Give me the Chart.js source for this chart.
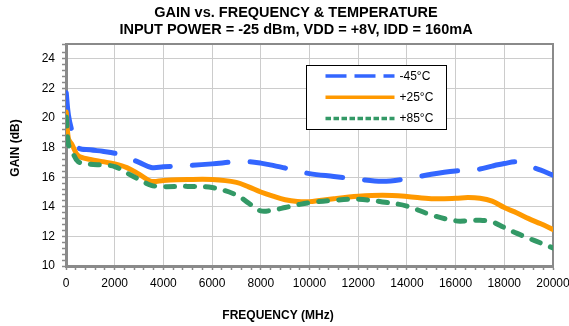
<!DOCTYPE html>
<html>
<head>
<meta charset="utf-8">
<script src="https://cdn.jsdelivr.net/npm/chart.js@4.4.1/dist/chart.umd.min.js"></script>
<style>
  html, body { margin: 0; padding: 0; background: #fff; overflow: hidden; }
  #wrap { width: 569px; height: 326px; position: relative; }
</style>
</head>
<body>
<div id="wrap"><canvas id="c" width="569" height="326"></canvas></div>
<script>
// Measured small-signal gain (dB) versus frequency (MHz) at three temperatures
const FREQ_MHZ = [10, 100, 250, 500, 1000, 1500, 2000, 2500, 3000, 3500, 4000, 5000, 6000, 7000, 7500, 8000, 8500,
                  9000, 9500, 10000, 11000, 12000, 13000, 14000, 15000, 16000, 16500, 17000, 17500, 18000, 18500, 19000, 19500, 20000];
const GAIN_M45 = [21.7, 20.2, 19.1, 18.0, 17.85, 17.75, 17.62, 17.35, 17.0, 16.66, 16.7, 16.78, 16.9, 17.05, 17.05, 16.95, 16.8,
                  16.62, 16.45, 16.24, 16.05, 15.86, 15.72, 15.9, 16.2, 16.42, 16.45, 16.55, 16.75, 16.92, 17.03, 16.75, 16.48, 16.13];
const GAIN_P25 = [20.4, 18.6, 18.2, 17.45, 17.2, 17.05, 16.9, 16.65, 16.2, 15.72, 15.78, 15.84, 15.84, 15.65, 15.35, 15.0, 14.72,
                  14.48, 14.36, 14.35, 14.55, 14.71, 14.78, 14.7, 14.55, 14.57, 14.63, 14.58, 14.38, 13.95, 13.6, 13.2, 12.85, 12.46];
const GAIN_P85 = [20.07, 18.24, 17.75, 17.05, 16.88, 16.82, 16.72, 16.28, 15.85, 15.45, 15.36, 15.38, 15.3, 14.8, 14.25, 13.72, 13.78,
                  13.95, 14.13, 14.28, 14.44, 14.51, 14.33, 14.05, 13.45, 13.05, 13.05, 13.09, 12.98, 12.6, 12.22, 11.88, 11.55, 11.22];
const SERIES_LABELS = ['-45°C', '+25°C', '+85°C'];

// Labelled axis values
const X_TICKS = [0, 2000, 4000, 6000, 8000, 10000, 12000, 14000, 16000, 18000, 20000];
const Y_TICKS = [10, 12, 14, 16, 18, 20, 22, 24];

const TITLE_LINES = ['GAIN vs. FREQUENCY & TEMPERATURE', 'INPUT POWER = -25 dBm, VDD = +8V, IDD = 160mA'];
const X_TITLE = 'FREQUENCY (MHz)';
const Y_TITLE = 'GAIN (dB)';

const FONT = '"Liberation Sans", Arial, sans-serif';
const FRAME = '#8a8a8a';
const GRID = '#cccccc';

const toPoints = (ys) => FREQ_MHZ.map((f, i) => ({ x: f, y: ys[i] }));
const isMajor = (v, list) => list.some(t => Math.abs(t - v) < 1e-6);

// Plot frame (top and right edges)
const frame = {
  id: 'frame',
  beforeDatasetsDraw(chart) {
    const { ctx, chartArea: a } = chart;
    ctx.save();
    ctx.strokeStyle = FRAME;
    ctx.lineWidth = 2;
    ctx.beginPath();
    ctx.moveTo(a.left, a.top);
    ctx.lineTo(a.right, a.top);
    ctx.lineTo(a.right, a.bottom);
    ctx.stroke();
    ctx.restore();
  }
};

// Boxed legend inside the plot
const boxLegend = {
  id: 'boxLegend',
  afterDatasetsDraw(chart, args, opts) {
    const { ctx, chartArea: a } = chart;
    const x = Math.round(a.left + opts.fx * (a.right - a.left)) + 0.5;
    const y = Math.round(a.top + opts.fy * (a.bottom - a.top)) + 0.5;
    ctx.save();
    ctx.fillStyle = '#fff';
    ctx.fillRect(x, y, opts.w, opts.h);
    ctx.strokeStyle = '#000';
    ctx.lineWidth = 1;
    ctx.strokeRect(x, y, opts.w, opts.h);
    ctx.font = '12px ' + FONT;
    ctx.textBaseline = 'middle';
    ctx.textAlign = 'left';
    chart.data.datasets.forEach((ds, i) => {
      const cy = y + opts.first + i * opts.gap;
      ctx.beginPath();
      ctx.setLineDash(opts.dashes[i]);
      ctx.lineCap = 'butt';
      ctx.lineWidth = 3.5;
      ctx.strokeStyle = ds.borderColor;
      ctx.moveTo(x + 19, cy);
      ctx.lineTo(x + 88, cy);
      ctx.stroke();
      ctx.setLineDash([]);
      ctx.fillStyle = '#000';
      ctx.fillText(ds.label, x + 93, cy + 0.5);
    });
    ctx.restore();
  }
};

// Chart title and axis captions
const captions = {
  id: 'captions',
  afterDraw(chart) {
    const { ctx } = chart;
    ctx.save();
    ctx.fillStyle = '#000';
    ctx.textAlign = 'center';
    ctx.textBaseline = 'middle';
    ctx.font = 'bold 14.5px ' + FONT;
    ctx.fillText(TITLE_LINES[0], 296, 12.5);
    ctx.fillText(TITLE_LINES[1], 296, 30);
    ctx.font = 'bold 12px ' + FONT;
    ctx.fillText(X_TITLE, 278, 316);
    ctx.translate(16, 148);
    ctx.rotate(-Math.PI / 2);
    ctx.fillText(Y_TITLE, 0, 0);
    ctx.restore();
  }
};

const lineStyle = {
  pointRadius: 0,
  borderWidth: 5,
  borderCapStyle: 'round',
  borderJoinStyle: 'round',
  tension: 0.35,
  fill: false
};

new Chart(document.getElementById('c'), {
  type: 'line',
  data: {
    datasets: [
      { ...lineStyle, label: SERIES_LABELS[0], data: toPoints(GAIN_M45), borderColor: '#3366FF', borderDash: [36, 22], order: 2 },
      { ...lineStyle, label: SERIES_LABELS[1], data: toPoints(GAIN_P25), borderColor: '#FF9900', order: 1 },
      { ...lineStyle, label: SERIES_LABELS[2], data: toPoints(GAIN_P85), borderColor: '#339966', borderDash: [9, 11], order: 0 }
    ]
  },
  options: {
    responsive: false,
    animation: false,
    devicePixelRatio: 1,
    layout: { padding: { top: 44, right: 16, bottom: 0, left: 0 } },
    plugins: {
      legend: { display: false },
      title: { display: false },
      tooltip: { enabled: false },
      boxLegend: { fx: 0.493, fy: 0.095, w: 140, h: 64, first: 10.5, gap: 21.3, dashes: [[21, 8], [], [5.5, 2.5]] }
    },
    scales: {
      x: {
        type: 'linear',
        min: 0,
        max: 20000,
        afterFit: (s) => { s.height = 60; s.paddingLeft = 0; s.paddingRight = 0; },
        ticks: {
          stepSize: 400,
          autoSkip: false,
          maxRotation: 0,
          minRotation: 0,
          padding: 6,
          color: '#000',
          font: { family: FONT, size: 12 },
          callback: (v) => isMajor(v, X_TICKS) ? String(v) : ''
        },
        grid: {
          color: (c) => isMajor(c.tick.value, X_TICKS) ? GRID : 'rgba(0,0,0,0)',
          tickColor: FRAME,
          tickLength: 4,
          tickWidth: 1.5,
          lineWidth: 1
        },
        border: { color: FRAME, width: 3 }
      },
      y: {
        type: 'linear',
        min: 10,
        max: 25,
        afterFit: (s) => { s.width = 66; s.paddingTop = 0; s.paddingBottom = 0; },
        ticks: {
          stepSize: 0.4,
          autoSkip: false,
          padding: 7,
          color: '#000',
          font: { family: FONT, size: 12 },
          callback: (v) => isMajor(v, Y_TICKS) ? String(v) : ''
        },
        grid: {
          color: (c) => isMajor(c.tick.value, Y_TICKS) ? GRID : 'rgba(0,0,0,0)',
          tickColor: FRAME,
          tickLength: 4,
          tickWidth: 1.5,
          lineWidth: 1
        },
        border: { color: FRAME, width: 3 }
      }
    }
  },
  plugins: [frame, boxLegend, captions]
});
</script>
</body>
</html>
